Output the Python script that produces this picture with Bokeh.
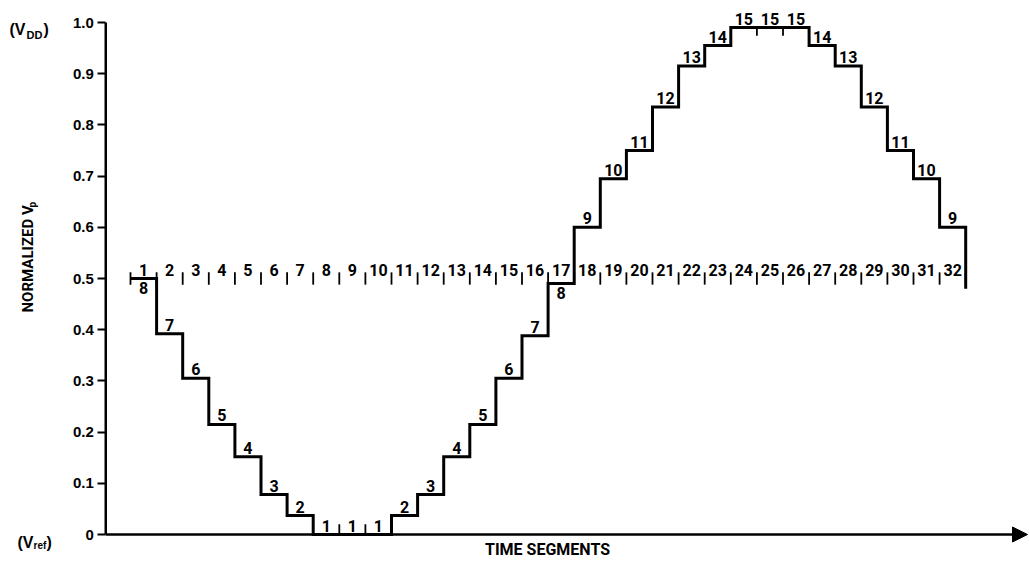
import math
from bokeh.plotting import figure
from bokeh.models import Range1d, FixedTicker, Label, Arrow, NormalHead
from bokeh.core.properties import value
from bokeh.embed import file_html
from bokeh.resources import INLINE

# ---------------- data ----------------
segments = list(range(1, 33))
levels = [8, 7, 6, 5, 4, 3, 2, 1, 1, 1, 2, 3, 4, 5, 6, 7,
          8, 9, 10, 11, 12, 13, 14, 15, 15, 15, 14, 13, 12, 11, 10, 9]
vp_values = [0.50, 0.392, 0.305, 0.215, 0.152, 0.078, 0.037, 0.0, 0.0, 0.0,
             0.037, 0.078, 0.152, 0.215, 0.305, 0.388, 0.49, 0.60, 0.695, 0.75,
             0.835, 0.915, 0.955, 0.99, 0.99, 0.99, 0.955, 0.915, 0.835, 0.75,
             0.695, 0.60]
end_value = 0.48
reference_level = 0.5
ytick_values = [0, 0.1, 0.2, 0.3, 0.4, 0.5, 0.6, 0.7, 0.8, 0.9, 1.0]
ytick_labels = ["0", "0.1", "0.2", "0.3", "0.4", "0.5", "0.6", "0.7", "0.8", "0.9", "1.0"]

# ---------------- layout ----------------
W, H = 1029, 565
SX, SY = 26.1, 512.0            # px per data unit
ORIGIN_PX, ORIGIN_PY = 130.0, 534.0   # px of x=0, y=0


def dx(px):
    return (px - ORIGIN_PX) / SX


def dy(py):
    return (ORIGIN_PY - py) / SY


p = figure(width=W, height=H,
           x_range=Range1d(dx(0), dx(W)), y_range=Range1d(dy(H), dy(0)),
           output_backend="svg", toolbar_location=None,
           x_axis_location=None, y_axis_location="left",
           min_border_left=0, min_border_right=0,
           min_border_top=0, min_border_bottom=0)
p.outline_line_color = None
p.grid.grid_line_color = None
p.background_fill_color = "white"
p.border_fill_color = "white"

axis_x = dx(105.25)

ax = p.yaxis[0]
ax.fixed_location = axis_x
ax.ticker = FixedTicker(ticks=ytick_values)
ax.major_label_overrides = dict(zip(ytick_values, ytick_labels))
ax.axis_line_color = None
ax.major_tick_out = 8
ax.major_tick_in = 0
ax.major_tick_line_width = 2
ax.major_tick_line_color = "black"
ax.minor_tick_line_color = None
ax.major_label_standoff = 4
ax.major_label_text_font = "Liberation Sans"
ax.major_label_text_font_style = "bold"
ax.major_label_text_font_size = "15px"
ax.major_label_text_color = "black"

# y axis line (0 .. 1.0)
p.segment(x0=[axis_x], y0=[0], x1=[axis_x], y1=[1.0], line_width=2.5, line_color="black")

# x axis arrow
p.add_layout(Arrow(end=NormalHead(size=15, fill_color="black", line_color="black"),
                   x_start=axis_x, y_start=0, x_end=dx(1027), y_end=0,
                   line_width=2.5, line_color="black"))

# step waveform
xs, ys = [], []
for i, v in enumerate(vp_values):
    xs += [i, i + 1]
    ys += [v, v]
xs.append(len(vp_values))
ys.append(end_value)
p.line(xs, ys, line_width=3, line_color="black", line_join="miter")

# reference ticks at 0.5 on each segment boundary
bounds = list(range(0, len(segments) + 1))
p.segment(x0=bounds, y0=[reference_level - 0.012] * len(bounds),
          x1=bounds, y1=[reference_level + 0.012] * len(bounds),
          line_width=1.8, line_color="black")

# small boundary ticks on flat steps (level 1 and level 15)
flat_b = [i for i in range(1, len(vp_values)) if vp_values[i] == vp_values[i - 1]]
p.segment(x0=flat_b, y0=[vp_values[i] for i in flat_b],
          x1=flat_b, y1=[vp_values[i] + (0.02 if vp_values[i] < 0.5 else -0.016) for i in flat_b],
          line_width=1.8, line_color="black")

font = value("Roboto")
centers = [s - 0.5 for s in segments]

# segment numbers above the 0.5 line
p.text(x=centers, y=[reference_level] * len(segments), text=[str(s) for s in segments],
       text_font=font, text_font_style="bold", text_font_size="16px",
       text_align="center", text_baseline="bottom", y_offset=-3, text_color="black")

# level numbers on each step
above = [i for i, v in enumerate(vp_values) if abs(v - reference_level) > 0.03]
below = [i for i, v in enumerate(vp_values) if abs(v - reference_level) <= 0.03]
p.text(x=[centers[i] for i in above], y=[vp_values[i] for i in above],
       text=[str(levels[i]) for i in above],
       text_font=font, text_font_style="bold", text_font_size="16px",
       text_align="center", text_baseline="bottom", y_offset=-3, text_color="black")
p.text(x=[centers[i] for i in below], y=[vp_values[i] for i in below],
       text=[str(levels[i]) for i in below],
       text_font=font, text_font_style="bold", text_font_size="16px",
       text_align="center", text_baseline="top", y_offset=3, text_color="black")


def lab(px, py, text, size, font_name="Roboto", **kw):
    p.add_layout(Label(x=dx(px), y=dy(py), text=text, text_font=font_name,
                       text_font_style="bold", text_font_size=size,
                       text_color="black", **kw))


# x axis title
lab(547, 549, "TIME SEGMENTS", "16px", text_align="center", text_baseline="middle")

# y axis title (rotated) with subscript
lab(27, 312, "NORMALIZED V", "15px", angle=math.pi / 2,
    text_align="left", text_baseline="middle")
lab(32, 207, "p", "10px", angle=math.pi / 2, text_align="left", text_baseline="middle")

# (V_DD) and (V_ref)
lab(9, 29, "(V", "16px", font_name="Liberation Sans", text_align="left", text_baseline="alphabetic")
lab(26, 34, "DD", "11px", font_name="Liberation Sans", text_align="left", text_baseline="alphabetic")
lab(43, 29, ")", "16px", font_name="Liberation Sans", text_align="left", text_baseline="alphabetic")

lab(17, 542, "(V", "16px", font_name="Liberation Sans", text_align="left", text_baseline="alphabetic")
lab(33, 545, "ref", "10px", font_name="Liberation Sans", text_align="left", text_baseline="alphabetic")
lab(46, 542, ")", "16px", font_name="Liberation Sans", text_align="left", text_baseline="alphabetic")

open("out.html", "w").write(file_html(p, INLINE))
